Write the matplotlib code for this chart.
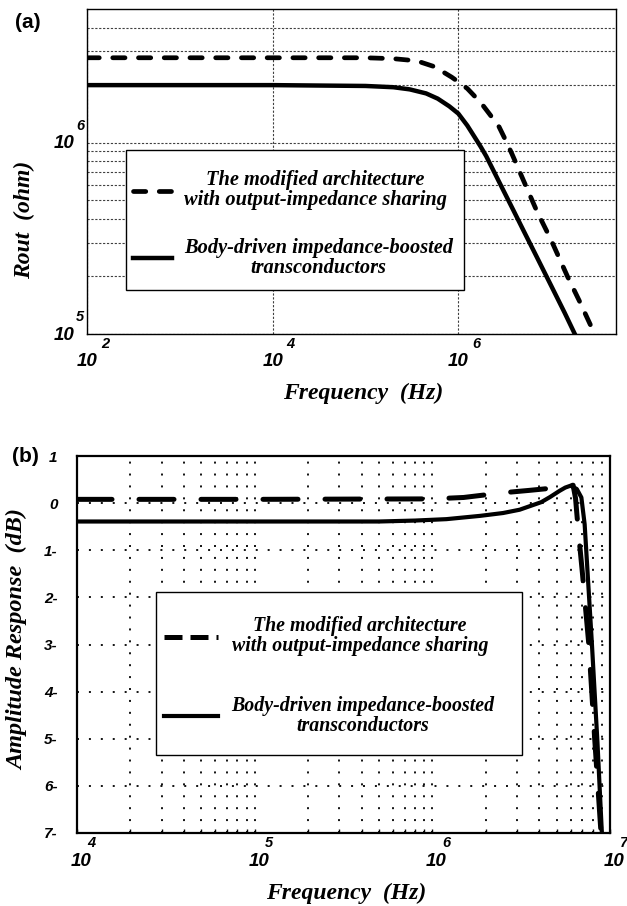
import matplotlib
matplotlib.use('Agg')
import matplotlib.pyplot as plt
from matplotlib import transforms
from matplotlib.lines import Line2D
from matplotlib.patches import Rectangle
from matplotlib.ticker import NullFormatter, FixedLocator

# --- panel (a): output resistance vs frequency ---
freq_a_mod = [1e2, 1e5, 2e5, 3e5, 4e5, 5.5e5, 7e5, 8.5e5, 1e6, 1.25e6, 1.5e6,
              1.8e6, 2.2e6, 2.75e6, 3.3e6, 3.8e6, 5e6, 7e6, 1e7, 1.5e7, 2e7, 3e7]
rout_mod = [2.78e6, 2.78e6, 2.75e6, 2.70e6, 2.63e6, 2.50e6, 2.33e6, 2.20e6, 2.08e6,
            1.92e6, 1.75e6, 1.59e6, 1.40e6, 1.21e6, 1.01e6, 8.7e5, 6.4e5, 4.4e5,
            3.1e5, 2.0e5, 1.5e5, 0.98e5]
freq_a_body = [1e2, 1e4, 1e5, 2e5, 3e5, 4.5e5, 6e5, 8e5, 1e6, 1.25e6, 1.5e6,
               1.75e6, 2e6, 2.5e6, 3e6, 4e6, 5e6, 7e6, 1e7, 1.4e7, 1.8e7]
rout_body = [2.0e6, 2.0e6, 1.98e6, 1.95e6, 1.90e6, 1.81e6, 1.70e6, 1.55e6, 1.42e6,
             1.23e6, 1.07e6, 9.5e5, 8.5e5, 6.85e5, 5.74e5, 4.35e5, 3.5e5, 2.53e5,
             1.79e5, 1.29e5, 1.0e5]

# --- panel (b): amplitude response vs frequency ---
freq_b_mod = [1e4, 1e5, 1e6, 1.5e6, 2.5e6, 3.5e6, 4.5e6, 5.5e6, 6.2e6, 6.4e6,
              6.6e6, 7.0e6, 7.6e6, 8.2e6, 8.9e6]
amp_mod = [0.08, 0.08, 0.09, 0.12, 0.22, 0.27, 0.31, 0.35, 0.38, 0.1,
           -0.5, -1.5, -3.0, -5.0, -7.0]
freq_b_body = [1e4, 1e5, 5e5, 8e5, 1.2e6, 1.86e6, 2.5e6, 3.1e6, 4.1e6, 4.6e6,
               5.2e6, 5.6e6, 6.0e6, 6.5e6, 6.9e6, 7.2e6, 7.9e6, 8.5e6, 9.0e6]
amp_body = [-0.39, -0.39, -0.39, -0.37, -0.34, -0.27, -0.21, -0.14, 0.02, 0.13,
            0.26, 0.33, 0.37, 0.30, 0.12, -0.45, -2.95, -5.08, -7.0]

labels = ['The modified architecture\nwith output-impedance sharing',
          'Body-driven impedance-boosted\ntransconductors']

a_xticks = [1e2, 1e4, 1e6]
a_xexp = ['2', '4', '6']
a_yticks = [1e5, 1e6]
a_yexp = ['5', '6']
a_yminor = [2e5, 3e5, 4e5, 5e5, 6e5, 7e5, 8e5, 9e5, 2e6, 3e6, 4e6]
b_xticks = [1e4, 1e5, 1e6, 1e7]
b_xexp = ['4', '5', '6', '7']
b_yticks = [1, 0, -1, -2, -3, -4, -5, -6, -7]
b_ylabels = ['1', '0', '1-', '2-', '3-', '4-', '5-', '6-', '7-']

SERIF = 'Liberation Serif'
SANS = 'Liberation Sans'

fig = plt.figure(figsize=(6.27, 9.06), dpi=100)
W, H = 627, 906
axA = fig.add_axes([87 / W, 1 - 334 / H, 529 / W, 325 / H])
axB = fig.add_axes([77 / W, 1 - 833 / H, 533 / W, 377 / H])


def pow_label(ax, val, exp, axis, off10, offexp, size10, sizeexp):
    # draws "10" with a raised exponent next to a tick
    if axis == 'x':
        tr = transforms.blended_transform_factory(ax.transData, ax.transAxes)
        pos = (val, 0)
    else:
        tr = transforms.blended_transform_factory(ax.transAxes, ax.transData)
        pos = (0, val)
    t1 = transforms.offset_copy(tr, fig=fig, x=off10[0], y=off10[1], units='dots')
    t2 = transforms.offset_copy(tr, fig=fig, x=offexp[0], y=offexp[1], units='dots')
    kw = dict(family=SANS, weight='bold', style='italic', ha='center', va='center',
              clip_on=False)
    ax.text(*pos, '10', transform=t1, fontsize=size10, **kw)
    ax.text(*pos, exp, transform=t2, fontsize=sizeexp, **kw)


def boxed_legend(ax, handles, box, anchor, fsize, hlen, hpad, lspace):
    # box and anchor are given in pixels relative to the axes' lower-left corner
    aw, ah = ax.bbox.width, ax.bbox.height
    x0, y0, w, h = box
    ax.add_patch(Rectangle((x0 / aw, y0 / ah), w / aw, h / ah, transform=ax.transAxes,
                           facecolor='white', edgecolor='black', lw=1.0, zorder=4))
    leg = ax.legend(handles, labels, loc='center left',
                    bbox_to_anchor=(anchor[0] / aw, anchor[1] / ah),
                    borderaxespad=0, borderpad=0, frameon=False,
                    prop=dict(family=SERIF, weight='bold', style='italic', size=fsize),
                    handlelength=hlen, handletextpad=hpad, labelspacing=lspace)
    leg.set_zorder(5)
    for t in leg.get_texts():
        t.set_multialignment('center')
        t.set_linespacing(1.0)
    return leg


# ---------------- panel (a) ----------------
axA.set_xscale('log')
axA.set_yscale('log')
axA.set_xlim(1e2, 5e7)
axA.set_ylim(1e5, 5e6)
axA.set_axisbelow(True)

lnA1, = axA.plot(freq_a_mod, rout_mod, color='black', lw=3.4, ls=(0, (2.6, 2.85)),
                 dash_capstyle='round')
lnA2, = axA.plot(freq_a_body, rout_body, color='black', lw=3.2)

axA.xaxis.set_major_locator(FixedLocator(a_xticks))
axA.xaxis.set_minor_locator(FixedLocator([]))
axA.yaxis.set_major_locator(FixedLocator(a_yticks))
axA.yaxis.set_minor_locator(FixedLocator(a_yminor))
for axis in (axA.xaxis, axA.yaxis):
    axis.set_major_formatter(NullFormatter())
    axis.set_minor_formatter(NullFormatter())
axA.tick_params(which='both', length=0)
axA.grid(True, which='both', color='0.25', lw=0.8, ls=(0, (2, 1.5)))
for s in axA.spines.values():
    s.set_linewidth(1.0)

for v, e in zip(a_xticks, a_xexp):
    pow_label(axA, v, e, 'x', (0, -27), (18, -10), 13.5, 10.5)
for v, e in zip(a_yticks, a_yexp):
    pow_label(axA, v, e, 'y', (-23, -1), (-7, 17), 13.5, 10.5)

# legend box 126..464 x 150..290 px (figure); entries centred at y 224
boxed_legend(axA, [lnA1, lnA2], (126 - 87, 334 - 290, 338, 140),
             (133 - 87, 334 - 224), 14.7, 1.9, 0.6, 1.35)

axA.set_xlabel('Frequency  (Hz)', family=SERIF, weight='bold', style='italic', fontsize=17)
axA.xaxis.set_label_coords((363 - 87) / 529, (334 - 393) / 325)
axA.xaxis.label.set_verticalalignment('center')
axA.set_ylabel('Rout  (ohm)', family=SERIF, weight='bold', style='italic', fontsize=17)
axA.yaxis.set_label_coords((24 - 87) / 529, (334 - 220) / 325)
axA.yaxis.label.set_verticalalignment('center')

# ---------------- panel (b) ----------------
axB.set_xscale('log')
axB.set_xlim(1e4, 1e7)
axB.set_ylim(-7, 1)
axB.set_axisbelow(True)

axB.plot(freq_b_mod, amp_mod, color='black', lw=3.6, ls=(0, (7, 5.4)),
         dash_capstyle='round')
axB.plot(freq_b_body, amp_body, color='black', lw=3.0)

axB.xaxis.set_major_formatter(NullFormatter())
axB.xaxis.set_minor_formatter(NullFormatter())
axB.set_xticks(b_xticks)
axB.set_yticks(b_yticks, labels=b_ylabels)
for t in axB.get_yticklabels():
    t.set_family(SANS)
    t.set_weight('bold')
    t.set_style('italic')
    t.set_fontsize(11)
axB.tick_params(axis='y', length=0, pad=14)
axB.tick_params(axis='x', which='both', direction='in', length=3, width=1)
axB.grid(True, which='both', color='black', lw=1.3, ls=(0, (1.1, 5.5)))
for s in axB.spines.values():
    s.set_linewidth(1.6)

for v, e in zip(b_xticks, b_xexp):
    pow_label(axB, v, e, 'x', (4, -28), (14, -10), 13.5, 10.5)

hB1 = Line2D([], [], color='black', lw=3.6, ls=(0, (3.6, 1.6)))
hB2 = Line2D([], [], color='black', lw=3.0)
# legend box 156..522 x 592..755 px (figure); entries centred at y 676
boxed_legend(axB, [hB1, hB2], (156 - 77, 833 - 755, 366, 163),
             (164 - 77, 833 - 676), 14.3, 2.7, 0.7, 2.0)

axB.set_xlabel('Frequency  (Hz)', family=SERIF, weight='bold', style='italic', fontsize=17)
axB.xaxis.set_label_coords((346 - 77) / 533, (833 - 893) / 377)
axB.xaxis.label.set_verticalalignment('center')
axB.set_ylabel('Amplitude Response  (dB)', family=SERIF, weight='bold', style='italic',
               fontsize=17.5)
axB.yaxis.set_label_coords((18 - 77) / 533, (833 - 640) / 377)
axB.yaxis.label.set_verticalalignment('center')

# panel tags
fig.text(15 / W, 1 - 22 / H, '(a)', family=SANS, weight='bold', fontsize=15,
         ha='left', va='center')
fig.text(12 / W, 1 - 457 / H, '(b)', family=SANS, weight='bold', fontsize=15,
         ha='left', va='center')

fig.savefig('out.png', dpi=100)
